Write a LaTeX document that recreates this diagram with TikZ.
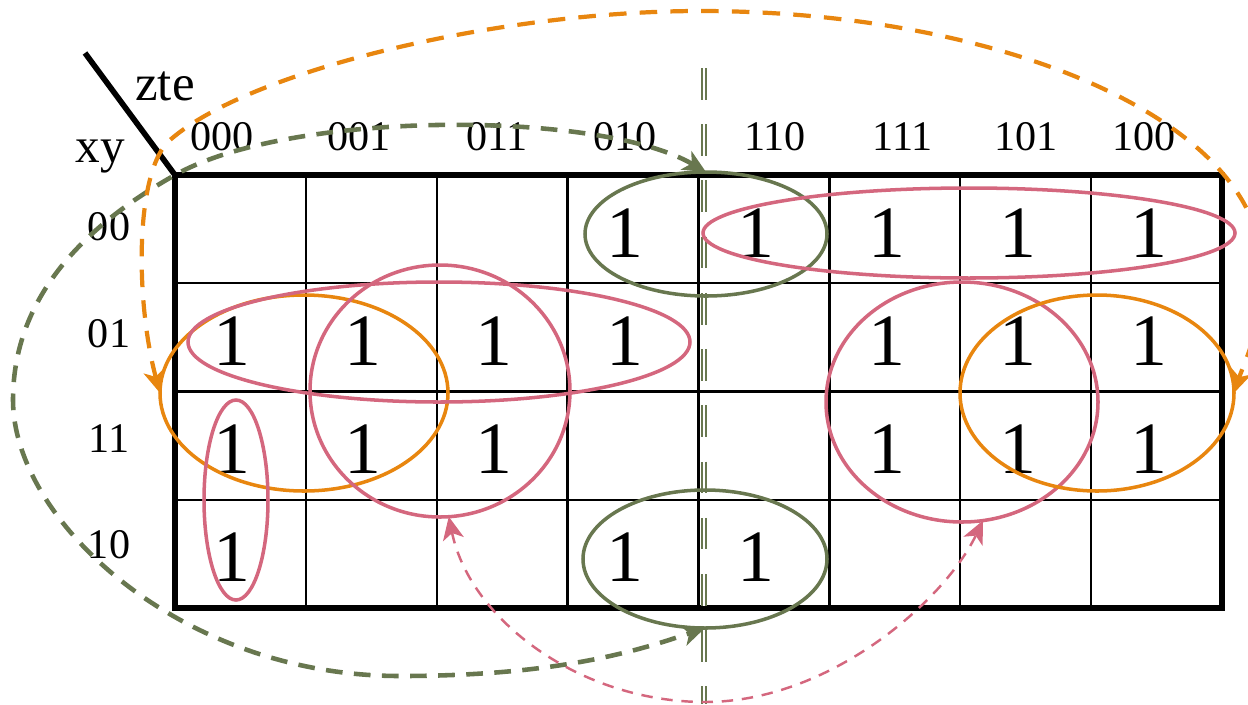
\documentclass[tikz,border=0pt]{standalone}
\usepackage{fontspec}
\setmainfont{Liberation Serif}
\usetikzlibrary{positioning,shapes.geometric,arrows.meta}
\definecolor{olive}{HTML}{68774F}
\definecolor{rose} {HTML}{D4677E}
\definecolor{amber}{HTML}{E8860F}
\tikzset{
  % --- nodes
  one/.style  = {anchor=base, inner sep=0pt, font=\fontsize{42}{48}\selectfont},
  lbl/.style  = {anchor=base, inner sep=0pt, font=\fontsize{24}{28}\selectfont},
  grp/.style  = {ellipse, inner sep=0pt, outer sep=0pt, line width=2pt},
  sz/.style 2 args = {minimum width=#1*0.02cm, minimum height=#2*0.02cm},
  % --- edges
  e/.style    = {{Stealth[length=13pt,width=12pt,inset=3.5pt]}-{Stealth[length=13pt,width=12pt,inset=3.5pt]}},
  eg/.style   = {e, draw=olive, line width=2.6pt, dash pattern=on 9.5pt off 6.5pt},
  eo/.style   = {e, draw=amber, line width=2.4pt, dash pattern=on 10pt off 7.5pt},
  ep/.style   = {e, draw=rose, line width=1.4pt, dash pattern=on 6.5pt off 5pt},
}
\begin{document}
\begin{tikzpicture}[x=0.02cm, y=-0.02cm]
  \useasboundingbox (0,0) rectangle (1248,704);
  % grid
  \foreach \i in {1,...,7}
    \draw[line width=1.4pt] ({175+\i*130.875},175) -- ({175+\i*130.875},608);
  \foreach \j in {1,2,3}
    \draw[line width=1.4pt] (175,{175+\j*108.25}) -- (1222,{175+\j*108.25});
  \draw[line width=3.2pt] (175,175) rectangle (1222,608);
  \coordinate (nw) at (175,175);
  \coordinate (tip) at (85,53);
  \draw[line width=3.2pt] (tip) -- (nw);
  \node[lbl, font=\fontsize{29}{34}\selectfont] (zte) at (165,100) {zte};
  \node[lbl, font=\fontsize{28}{34}\selectfont] (xy) at (100,162) {xy};
  % labels
  \foreach \x/\t in {222/000,359/001,497/011,625/010,775/110,903/111,1026/101,1144/100}
    \node[lbl] (c\t) at (\x,150) {\t};
  \foreach \y/\t in {240/00,347/01,452/11,558/10}
    \node[lbl] (r\t) at (109,\y) {\t};
  % cells
  \foreach \c/\r in {3/0,4/0,5/0,6/0,7/0,
                     0/1,1/1,2/1,3/1,5/1,6/1,7/1,
                     0/2,1/2,2/2,5/2,6/2,7/2,
                     0/3,3/3,4/3}
    \node[one] (n\r\c) at ({175+(\c+0.5)*130.875-8},{175+\r*108.25+82}) {1};
  % symmetry axis
  \coordinate (axtop) at (704,68);
  \coordinate (axbot) at (704,704);
  \draw[olive, line width=1.1pt, double=white, double distance=1.6pt,
        dash pattern=on 18pt off 14pt] (axtop) -- (axbot);
  % groups
  \node[grp, draw=olive, sz={242}{124}] (g1) at (706,234) {};
  \node[grp, draw=olive, sz={244}{138}] (g2) at (705,559) {};
  \node[grp, draw=rose,  sz={532}{90}]  (pa) at (969,233) {};
  \node[grp, draw=amber, sz={288}{196}] (oa) at (304,393) {};
  \node[grp, draw=rose,  sz={502}{120}] (pb) at (439,342) {};
  \node[grp, draw=rose,  sz={260}{252}] (pc) at (440,391) {};
  \node[grp, draw=rose,  sz={64}{200}]  (pd) at (236,500) {};
  \node[grp, draw=rose,  sz={272}{240}] (pe) at (962,402) {};
  \node[grp, draw=amber, sz={274}{196}] (ob) at (1097,393) {};
  % links
  \coordinate (gl) at (13,400);
  \coordinate (gb) at (400,676);
  \draw[eg] (g1.north) .. controls (600,110) and (290,110) .. (nw)
            .. controls (95,220) and (13,290) .. (gl)
            .. controls (13,520) and (180,676) .. (gb)
            .. controls (560,676) and (640,650) .. (g2.south);
  \coordinate (oc) at (170,140);
  \coordinate (ot) at (700,11);
  \coordinate (orr) at (1262,270);
  \draw[eo] (oa.west) .. controls (135,300) and (135,170) .. (oc)
            .. controls (250,70) and (500,11) .. (ot)
            .. controls (1000,11) and (1262,120) .. (orr)
            .. controls (1262,330) and (1245,360) .. (ob.east);
  \coordinate (pm) at (705,702);
  \draw[ep] (pc.-86) .. controls (470,620) and (580,702) .. (pm)
            .. controls (830,702) and (945,600) .. (pe.-80);
\end{tikzpicture}
\end{document}
